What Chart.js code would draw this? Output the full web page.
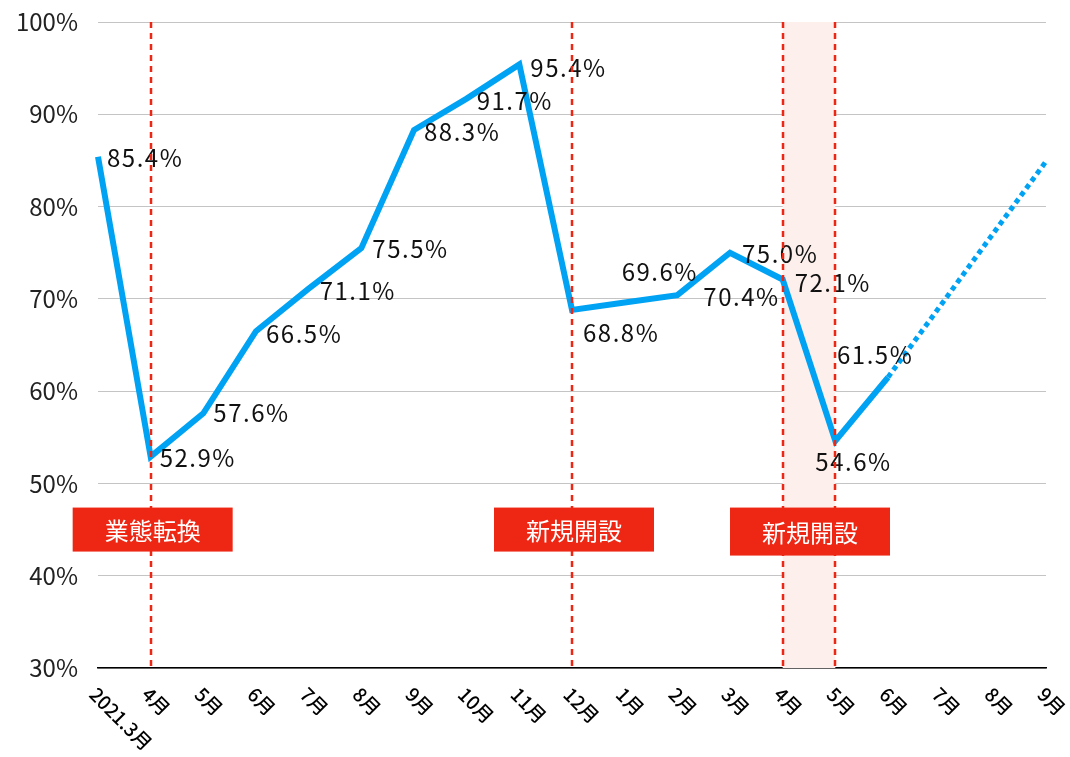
<!DOCTYPE html>
<html lang="ja">
<head>
<meta charset="utf-8">
<title>稼働率の推移</title>
<script src="https://cdn.jsdelivr.net/npm/chart.js@4.4.0/dist/chart.umd.min.js"></script>
<style>
  html, body { margin: 0; padding: 0; background: #fff; }
  #wrap { width: 1070px; height: 757px; }
</style>
</head>
<body>
<div id="wrap"><canvas id="chart" width="1070" height="757"></canvas></div>
<script>
// Months on the horizontal axis
const months = ['2021.3月', '4月', '5月', '6月', '7月', '8月', '9月', '10月', '11月', '12月',
                '1月', '2月', '3月', '4月', '5月', '6月', '7月', '8月', '9月'];

// Monthly rate (%) – actual results
const actual = [85.4, 52.9, 57.6, 66.5, 71.1, 75.5, 88.3, 91.7, 95.4, 68.8,
                69.6, 70.4, 75.0, 72.1, 54.6, 61.5];

// Outlook (%) – from the latest month to the target month
const outlook = [null, null, null, null, null, null, null, null, null, null,
                 null, null, null, null, null, 61.5, null, null, 84.9];

// Vertical axis ticks (%)
const yTicks = [30, 40, 50, 60, 70, 80, 90, 100];

// Events: month index range and caption
const eventFrom = [1, 9, 13];
const eventTo = [1, 9, 14];
const eventText = ['業態転換', '新規開設', '新規開設'];
const eventLevel = 45;   // vertical position (%) of the caption boxes

const FONT = '"Noto Sans CJK JP", "Noto Sans", sans-serif';
const BLUE = '#00a2f4';
const RED = '#ee2614';

// Placement of each value caption relative to its point: [dx, dy]
const labelShift = [
  [9, 1], [9, 1], [10, 0], [10, 3], [11, 2], [11, 1], [10, 2], [10, 2], [11, 3],
  [11, 23], [-3, -31], [26, 2], [12, 1], [12, 3], [-20, 21], [-51, -22]
];

const eventsPlugin = {
  id: 'events',
  beforeDatasetsDraw(chart) {
    const { ctx, chartArea: a, scales: { x } } = chart;
    ctx.save();
    ctx.fillStyle = '#fdefec';
    eventFrom.forEach((f, i) => {
      if (eventTo[i] > f) {
        const x0 = x.getPixelForValue(f), x1 = x.getPixelForValue(eventTo[i]);
        ctx.fillRect(x0, a.top, x1 - x0, a.bottom - a.top);
      }
    });
    ctx.restore();
  },
  afterDatasetsDraw(chart) {
    const { ctx, chartArea: a, scales: { x, y } } = chart;
    ctx.save();
    ctx.letterSpacing = '1.5px';
    // value captions
    ctx.font = '24px ' + FONT;
    ctx.fillStyle = '#111';
    ctx.textAlign = 'left';
    ctx.textBaseline = 'middle';
    actual.forEach((v, i) => {
      const px = x.getPixelForValue(i), py = y.getPixelForValue(v);
      const s = labelShift[i];
      ctx.fillText(v.toFixed(1) + '%', px + s[0], py + s[1]);
    });
    ctx.letterSpacing = '0px';
    // dashed event lines
    ctx.strokeStyle = RED;
    ctx.lineWidth = 2.5;
    ctx.setLineDash([6, 5]);
    const lines = new Set();
    eventFrom.forEach((f, i) => { lines.add(f); lines.add(eventTo[i]); });
    lines.forEach(idx => {
      const px = Math.round(x.getPixelForValue(idx));
      ctx.beginPath();
      ctx.moveTo(px, a.top);
      ctx.lineTo(px, a.bottom);
      ctx.stroke();
    });
    ctx.setLineDash([]);
    // caption boxes
    const by = y.getPixelForValue(eventLevel);
    ctx.font = '24px ' + FONT;
    ctx.textAlign = 'center';
    eventFrom.forEach((f, i) => {
      const span = eventTo[i] > f;
      const cx = (x.getPixelForValue(f) + x.getPixelForValue(eventTo[i])) / 2 + (span ? 1 : 2);
      const h = span ? 48 : 44;
      ctx.fillStyle = RED;
      ctx.fillRect(cx - 80, by - 22, 160, h);
      ctx.fillStyle = '#fff';
      ctx.fillText(eventText[i], cx, by - 22 + h / 2 + 1);
    });
    ctx.restore();
  },
  afterDraw(chart) {
    // slanted month labels
    const { ctx, chartArea: a, scales: { x } } = chart;
    ctx.save();
    ctx.font = '500 19px ' + FONT;
    ctx.fillStyle = '#000';
    ctx.textAlign = 'left';
    ctx.textBaseline = 'middle';
    months.forEach((m, i) => {
      const px = x.getPixelForValue(i);
      ctx.save();
      ctx.translate(px - 5, a.bottom + 23);
      ctx.rotate(Math.PI / 4);
      ctx.fillText(m, 0, 0);
      ctx.restore();
    });
    ctx.restore();
  }
};

new Chart(document.getElementById('chart'), {
  type: 'line',
  data: {
    labels: months,
    datasets: [
      {
        data: actual,
        borderColor: BLUE,
        borderWidth: 6,
        pointRadius: 0,
        tension: 0,
        borderJoinStyle: 'miter',
        borderCapStyle: 'butt',
        fill: false
      },
      {
        data: outlook,
        borderColor: BLUE,
        borderWidth: 5,
        borderDash: [5, 4],
        pointRadius: 0,
        tension: 0,
        spanGaps: true,
        fill: false
      }
    ]
  },
  options: {
    responsive: false,
    animation: false,
    layout: { padding: { left: 0, right: 24, top: 22, bottom: 89 } },
    plugins: { legend: { display: false }, tooltip: { enabled: false } },
    scales: {
      x: {
        offset: false,
        grid: { display: false, drawTicks: false },
        border: { color: '#000', width: 1.5 },
        ticks: { display: false },
        afterFit(s) { s.height = 0; s.paddingLeft = 0; s.paddingRight = 0; }
      },
      y: {
        min: yTicks[0],
        max: yTicks[yTicks.length - 1],
        afterBuildTicks(s) { s.ticks = yTicks.map(v => ({ value: v })); },
        ticks: {
          callback: v => v + '%',
          font: { size: 24, family: FONT },
          color: '#222',
          padding: 20
        },
        grid: { color: '#c4c4c4', lineWidth: 1, drawTicks: false },
        border: { display: false },
        afterFit(s) { s.width = 98; s.paddingTop = 0; s.paddingBottom = 0; }
      }
    }
  },
  plugins: [eventsPlugin]
});
</script>
</body>
</html>
